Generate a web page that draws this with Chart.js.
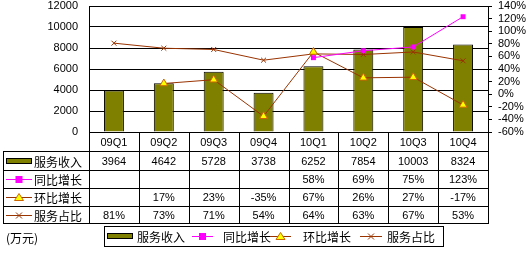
<!DOCTYPE html>
<html>
<head>
<meta charset="utf-8">
<script src="https://cdn.jsdelivr.net/npm/chart.js@4/dist/chart.umd.min.js"></script>
<style>
    html, body { margin: 0; padding: 0; background: #fff; }
</style>
</head>
<body>
<canvas id="chart" width="526" height="253"></canvas>
<script>
const quarters = ['09Q1', '09Q2', '09Q3', '09Q4', '10Q1', '10Q2', '10Q3', '10Q4'];
const serviceRevenue = [3964, 4642, 5728, 3738, 6252, 7854, 10003, 8324];
const yoyGrowth = [null, null, null, null, 58, 69, 75, 123];
const qoqGrowth = [null, 17, 23, -35, 67, 26, 27, -17];
const serviceShare = [81, 73, 71, 54, 64, 63, 67, 53];
const seriesNames = ['服务收入', '同比增长', '环比增长', '服务占比'];
const unitLabel = '(万元)';

const OLIVE = '#808000';
const MAGENTA = '#FF00FF';
const BROWN = '#993300';
const YELLOW = '#FFFF00';
const NUM_FONT = '11px "Liberation Sans", Arial, sans-serif';
const CJK_FONT = '12px "Noto Sans CJK SC", sans-serif';

function drawMarker(ctx, kind, x, y) {
    ctx.save();
    if (kind === 1) {
        ctx.fillStyle = MAGENTA;
        ctx.fillRect(x - 3.5, y - 3.5, 7, 7);
    } else if (kind === 2) {
        ctx.beginPath();
        ctx.moveTo(x, y - 4);
        ctx.lineTo(x + 4.5, y + 3);
        ctx.lineTo(x - 4.5, y + 3);
        ctx.closePath();
        ctx.fillStyle = YELLOW;
        ctx.fill();
        ctx.strokeStyle = '#CC6600';
        ctx.lineWidth = 1;
        ctx.stroke();
    } else if (kind === 3) {
        ctx.strokeStyle = BROWN;
        ctx.lineWidth = 1;
        ctx.beginPath();
        ctx.moveTo(x - 3, y - 3); ctx.lineTo(x + 3, y + 3);
        ctx.moveTo(x + 3, y - 3); ctx.lineTo(x - 3, y + 3);
        ctx.stroke();
    }
    ctx.restore();
}

// draws the series key (bar box or line + marker) between x0 and x1
function drawKey(ctx, idx, x0, x1, y) {
    ctx.save();
    if (idx === 0) {
        ctx.fillStyle = OLIVE;
        ctx.fillRect(x0, y - 3, x1 - x0, 6);
        ctx.strokeStyle = '#000';
        ctx.lineWidth = 1;
        ctx.strokeRect(x0 + 0.5, y - 2.5, x1 - x0 - 1, 5);
    } else {
        ctx.strokeStyle = idx === 1 ? MAGENTA : BROWN;
        ctx.lineWidth = 1;
        ctx.beginPath();
        ctx.moveTo(x0, y + 0.5);
        ctx.lineTo(x1, y + 0.5);
        ctx.stroke();
        drawMarker(ctx, idx, (x0 + x1) / 2, y + 0.5);
    }
    ctx.restore();
}

const tablePlugin = {
    id: 'data_table',
    afterDraw: (chart) => {
        const ctx = chart.ctx;
        const area = chart.chartArea;
        const xScale = chart.scales.x;
        const colW = (area.right - area.left) / quarters.length;
        const lines = [area.bottom, 151, 170, 188, 206, 223];
        const tableLeft = 3;
        const rowsText = [
            serviceRevenue.map(v => v == null ? '' : String(v)),
            yoyGrowth.map(v => v == null ? '' : v + '%'),
            qoqGrowth.map(v => v == null ? '' : v + '%'),
            serviceShare.map(v => v == null ? '' : v + '%')
        ];

        ctx.save();
        ctx.strokeStyle = '#000';
        ctx.lineWidth = 1;
        ctx.beginPath();
        // horizontal lines
        for (let r = 1; r < lines.length; r++) {
            ctx.moveTo(tableLeft, lines[r] + 0.5);
            ctx.lineTo(area.right, lines[r] + 0.5);
        }
        // vertical lines
        ctx.moveTo(tableLeft + 0.5, lines[1]);
        ctx.lineTo(tableLeft + 0.5, lines[5] + 1);
        for (let i = 0; i <= quarters.length; i++) {
            const x = Math.round(area.left + i * colW) + 0.5;
            ctx.moveTo(x, area.bottom);
            ctx.lineTo(x, lines[5] + 1);
        }
        ctx.stroke();

        ctx.fillStyle = '#000';
        ctx.textAlign = 'center';
        ctx.textBaseline = 'middle';
        ctx.font = NUM_FONT;
        quarters.forEach((q, i) => {
            const cx = xScale.getPixelForValue(i);
            ctx.fillText(q, cx, (lines[0] + lines[1]) / 2 + 1);
            rowsText.forEach((row, r) => {
                ctx.fillText(row[i], cx, (lines[r + 1] + lines[r + 2]) / 2 + 1);
            });
        });

        ctx.textAlign = 'left';
        ctx.font = CJK_FONT;
        seriesNames.forEach((name, r) => {
            const cy = Math.round((lines[r + 1] + lines[r + 2]) / 2);
            drawKey(ctx, r, 6, 32, cy);
            ctx.fillText(name, 34, cy + 1);
        });

        // legend box
        ctx.strokeRect(104.5, 226.5, 339, 20);
        const legendKeys = [[107, 133], [192, 213], [270, 291], [360, 382]];
        const legendText = [137, 223, 303, 387];
        seriesNames.forEach((name, r) => {
            drawKey(ctx, r, legendKeys[r][0], legendKeys[r][1], 236);
            ctx.fillText(name, legendText[r], 237);
        });

        ctx.fillText(unitLabel, 6, 238);
        ctx.restore();
    }
};

new Chart(document.getElementById('chart'), {
    type: 'bar',
    plugins: [tablePlugin],
    data: {
        labels: quarters,
        datasets: [{
            type: 'line',
            label: seriesNames[1],
            data: yoyGrowth,
            yAxisID: 'y1',
            borderColor: MAGENTA,
            backgroundColor: MAGENTA,
            borderWidth: 1,
            pointStyle: 'rect',
            pointRadius: 3.5,
            pointBorderWidth: 0,
            order: 1
        }, {
            type: 'line',
            label: seriesNames[2],
            data: qoqGrowth,
            yAxisID: 'y1',
            borderColor: BROWN,
            backgroundColor: YELLOW,
            pointBorderColor: '#CC6600',
            borderWidth: 1,
            pointStyle: 'triangle',
            pointRadius: 4.5,
            pointBorderWidth: 1,
            order: 2
        }, {
            type: 'line',
            label: seriesNames[3],
            data: serviceShare,
            yAxisID: 'y1',
            borderColor: BROWN,
            backgroundColor: BROWN,
            borderWidth: 1,
            pointStyle: 'crossRot',
            pointRadius: 3.5,
            pointBorderWidth: 1,
            order: 3
        }, {
            label: seriesNames[0],
            data: serviceRevenue,
            yAxisID: 'y',
            backgroundColor: OLIVE,
            borderColor: '#000',
            borderWidth: 1,
            barPercentage: 0.4,
            categoryPercentage: 1,
            order: 10
        }]
    },
    options: {
        responsive: false,
        devicePixelRatio: 1,
        animation: false,
        layout: {
            padding: { top: 6, bottom: 121, left: 0, right: 0 }
        },
        scales: {
            x: {
                display: false,
                offset: true
            },
            y: {
                position: 'left',
                min: 0,
                max: 12000,
                afterFit: (s) => { s.width = 89; s.paddingTop = 0; s.paddingBottom = 0; },
                ticks: {
                    stepSize: 2000,
                    padding: 11,
                    autoSkip: false,
                    color: '#000',
                    font: { family: '"Liberation Sans", Arial, sans-serif', size: 11 },
                    callback: function (value) {
                        return String(value);
                    }
                },
                grid: {
                    color: '#000',
                    drawTicks: false
                },
                border: { color: '#000' }
            },
            y1: {
                position: 'right',
                min: -60,
                max: 140,
                afterFit: (s) => { s.width = 38; s.paddingTop = 0; s.paddingBottom = 0; },
                ticks: {
                    stepSize: 20,
                    padding: 6,
                    autoSkip: false,
                    color: '#000',
                    font: { family: '"Liberation Sans", Arial, sans-serif', size: 11 },
                    callback: function (value) {
                        return value + '%';
                    }
                },
                grid: {
                    drawOnChartArea: false,
                    color: '#000',
                    tickLength: 4
                },
                border: { color: '#000' }
            }
        },
        plugins: {
            legend: { display: false },
            tooltip: { enabled: false }
        }
    }
});
</script>
</body>
</html>
